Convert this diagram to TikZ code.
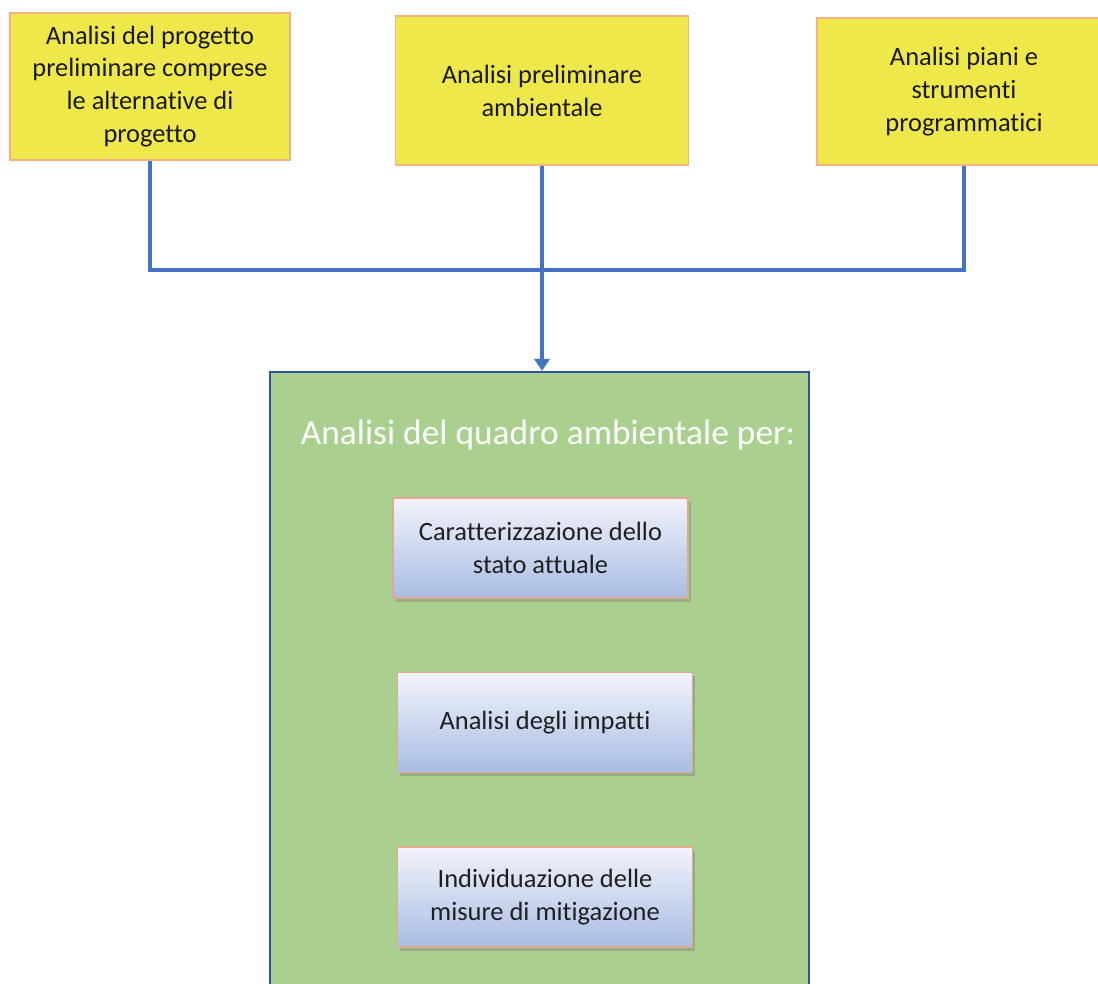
\documentclass[tikz,border=0pt]{standalone}
\usepackage{fontspec}
\setmainfont{Carlito}[Ligatures=NoCommon]
\usetikzlibrary{arrows.meta,shadows}
\definecolor{inyellow}{HTML}{EEE84A}
\definecolor{inorange}{HTML}{F4B183}
\definecolor{linkblue}{HTML}{4472C4}
\definecolor{quadrogreen}{HTML}{A9D08E}
\definecolor{quadroblue}{HTML}{2F5597}
\definecolor{taskblue}{HTML}{A9BDE3}
\definecolor{tasktop}{HTML}{F2F3FB}
\definecolor{taskedge}{HTML}{E3A98C}
\tikzset{
  input/.style={draw=inorange,line width=1pt,fill=inyellow,align=center,inner sep=0pt,
    text=black!90,font=\fontsize{18.8}{23.4}\selectfont},
  task/.style={draw=taskedge,line width=0.8pt,top color=tasktop,bottom color=taskblue,
    align=center,inner sep=0pt,minimum width=7.375cm,minimum height=2.5cm,
    text=black!88,font=\fontsize{18.8}{23.4}\selectfont,
    drop shadow={opacity=0.45,shadow xshift=2pt,shadow yshift=-2.5pt}},
  link/.style={draw=linkblue,line width=3.5pt},
}
\begin{document}
\begin{tikzpicture}[x=0.025cm,y=-0.025cm]
                \useasboundingbox (0,0) rectangle (1098,984);
                %% inputs
                \node[input,minimum width=7cm,minimum height=3.675cm] (progetto) at (150,86.5)
                    {Analisi del progetto\\preliminare comprese\\le alternative di\\progetto};
                \node[input,minimum width=7.325cm,minimum height=3.725cm] (ambientale) at (542,90.5)
                    {Analisi preliminare\\ambientale};
                \node[input,minimum width=7.35cm,minimum height=3.675cm] (piani) at (964,91.5)
                    {Analisi piani e\\strumenti\\programmatici};
                %% quadro ambientale
                \node[draw=quadroblue,line width=1.5pt,fill=quadrogreen,minimum width=13.475cm,
                    minimum height=15.7cm,inner sep=0pt] (quadro) at (539.5,686) {};
                \node[anchor=base,text=white,font=\fontsize{25.2}{30}\selectfont] (titolo) at (548,444)
                    {Analisi del quadro ambientale per:};
                \node[task] (stato) at (540.5,548) {Caratterizzazione dello\\stato attuale};
                \node[task] (impatti) at (545,722.5) {Analisi degli impatti};
                \node[task] (misure) at (545,897) {Individuazione delle\\misure di mitigazione};
                %% links
                \coordinate (nodo) at (ambientale.south |- 0,270);
                \draw[link] (progetto.south) |- (nodo) -| (piani.south);
                \draw[link,-{Triangle[width=0.38cm,length=0.3cm]}] (ambientale.south) -- (ambientale.south |- quadro.north);
            \end{tikzpicture}
\end{document}
